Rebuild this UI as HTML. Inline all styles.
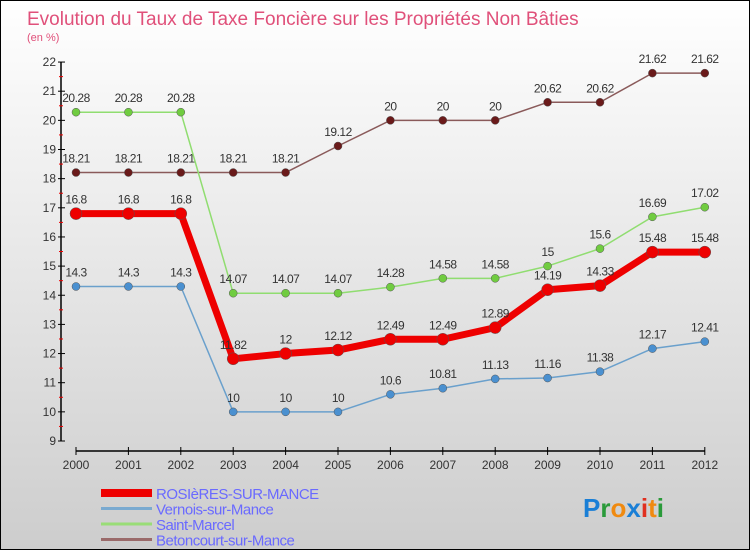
<!DOCTYPE html>
<html><head><meta charset="utf-8"><style>
body{margin:0;}
#c{width:748px;height:548px;border:1px solid #000;background:linear-gradient(#ffffff,#cdcdcd);position:relative;font-family:"Liberation Sans",sans-serif;overflow:hidden}
</style></head><body>
<div id="c">
<svg id="s" width="748" height="548" xmlns="http://www.w3.org/2000/svg">
<text x="26" y="24" font-size="19" fill="#e0507a">Evolution du Taux de Taxe Foncière sur les Propriétés Non Bâties</text>
<text x="26" y="40" font-size="11" fill="#e0507a">(en %)</text>
<g id="axes"></g><g id="series"></g><g id="legend"></g>
<text x="582" y="516" font-size="26" font-weight="bold"><tspan fill="#1a7fd6">P</tspan><tspan fill="#2a9a3a">r</tspan><tspan fill="#f08a10">o</tspan><tspan fill="#1a7fd6">x</tspan><tspan fill="#e03020">i</tspan><tspan fill="#f08a10">t</tspan><tspan fill="#2a9a3a">i</tspan></text>
</svg></div>
<script>
const years=[2000,2001,2002,2003,2004,2005,2006,2007,2008,2009,2010,2011,2012];
const rosieres=[16.8,16.8,16.8,11.82,12,12.12,12.49,12.49,12.89,14.19,14.33,15.48,15.48];
const vernois=[14.3,14.3,14.3,10,10,10,10.6,10.81,11.13,11.16,11.38,12.17,12.41];
const stmarcel=[20.28,20.28,20.28,14.07,14.07,14.07,14.28,14.58,14.58,15,15.6,16.69,17.02];
const betoncourt=[18.21,18.21,18.21,18.21,18.21,19.12,20,20,20,20.62,20.62,21.62,21.62];
const yTicks=[9,10,11,12,13,14,15,16,17,18,19,20,21,22];
const NS="http://www.w3.org/2000/svg";
function X(i){return 75+i*52.4;}
function Y(v){return 440-(v-9)*29.15;}
function mk(t,a,p){const e=document.createElementNS(NS,t);for(const k in a)e.setAttribute(k,a[k]);p.appendChild(e);return e;}
const ax=document.getElementById('axes');
let l=mk('line',{x1:60,y1:Y(22),x2:60,y2:Y(9),stroke:'#000','stroke-width':1.5},ax);

yTicks.forEach(v=>{mk('line',{x1:57,y1:Y(v),x2:64,y2:Y(v),stroke:'#000'},ax);
 if(v<22)mk('line',{x1:58,y1:Y(v+0.5),x2:62,y2:Y(v+0.5),stroke:'#e00'},ax);
 const t=mk('text',{x:55,y:Y(v)+4,'font-size':12,fill:'#333','text-anchor':'end'},ax);t.textContent=v;
 });
l=mk('line',{x1:X(0),y1:450,x2:X(12),y2:450,stroke:'#000','stroke-width':1.5},ax);

years.forEach((y,i)=>{mk('line',{x1:X(i),y1:446,x2:X(i),y2:454,stroke:'#000'},ax);
 const t=mk('text',{x:X(i),y:468,'font-size':12,fill:'#333','text-anchor':'middle'},ax);t.textContent=y;
 });
const sg=document.getElementById('series');
function draw(vals,color,w,r,name,fill){
 const g=mk('g',{},sg);
 mk('polyline',{points:vals.map((v,i)=>X(i)+','+Y(v)).join(' '),fill:'none',stroke:color,'stroke-width':w,'stroke-linejoin':'round'},g);
 vals.forEach((v,i)=>{const c=mk('circle',{cx:X(i),cy:Y(v),r:r,fill:fill,stroke:'#555','stroke-width':0.5},g);
  
  const t=mk('text',{x:X(i),y:Y(v)-10,'font-size':12,fill:'#333','text-anchor':'middle','letter-spacing':'-0.5'},g);t.textContent=v;
  });
}
draw(betoncourt,'#8a5a5a',1.5,4,'betoncourt-series','#6a1a1a');
draw(stmarcel,'#90dd70',1.5,4,'saint-marcel-series','#70cc40');
draw(vernois,'#6aa0cc',1.5,4,'vernois-series','#4a90d0');
draw(rosieres,'#ee0000',7,6,'rosieres-series','#ee0000');
const lg=document.getElementById('legend');
[['ROSIèRES-SUR-MANCE','#ee0000',8],['Vernois-sur-Mance','#7aaad0',3],['Saint-Marcel','#99dd77',3],['Betoncourt-sur-Mance','#9a6a6a',3]].forEach((d,i)=>{
 const y=492+i*15.5;
 const g=mk('g',{},lg);
 mk('line',{x1:100,y1:y,x2:151,y2:y,stroke:d[1],'stroke-width':d[2]},g);
 const t=mk('text',{x:155,y:y+6,'font-size':15,fill:'#6a6aff','letter-spacing':'-0.5'},g);t.textContent=d[0];
});
</script></body></html>
